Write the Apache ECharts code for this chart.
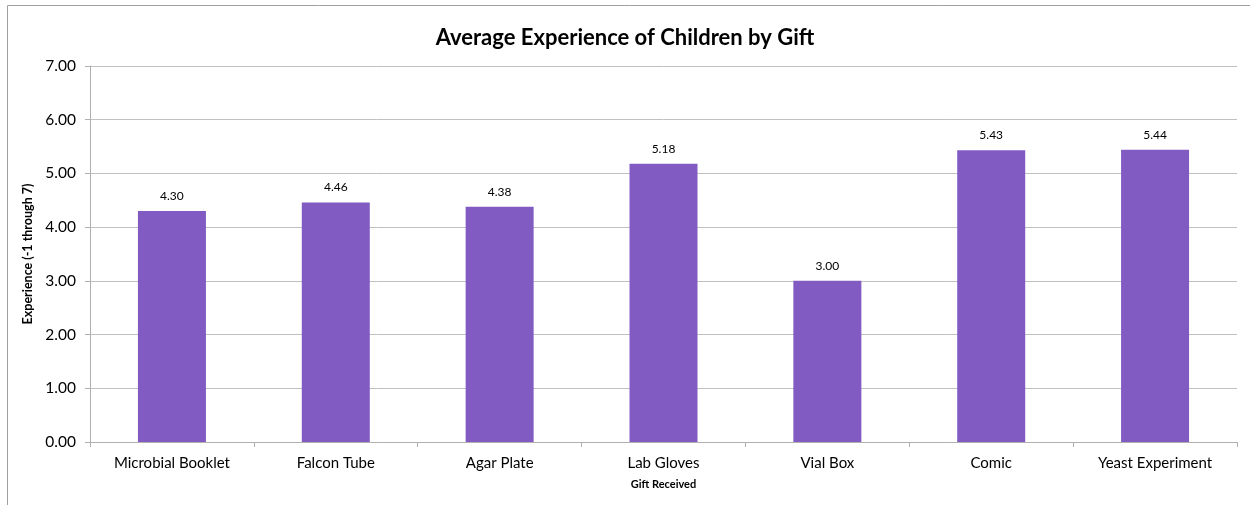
<!DOCTYPE html>
<html>
<head>
<meta charset="utf-8">
<script src="https://cdn.jsdelivr.net/npm/echarts@6/dist/echarts.min.js"></script>
<style>
  html, body { margin: 0; padding: 0; background: #ffffff; }
  #chart { width: 1250px; height: 505px; }
</style>
</head>
<body>
<div id="chart"></div>
<script>
// Gifts handed out and the average experience score for each
const gifts = ['Microbial Booklet', 'Falcon Tube', 'Agar Plate', 'Lab Gloves', 'Vial Box', 'Comic', 'Yeast Experiment'];
const avgExperience = [4.30, 4.46, 4.38, 5.18, 3.00, 5.43, 5.44];

const chart = echarts.init(document.getElementById('chart'));
const font = 'Lato, "Open Sans", sans-serif';

chart.setOption({
  animation: false,
  backgroundColor: '#ffffff',
  graphic: [{
    type: 'rect',
    shape: { x: 7.5, y: 5.5, width: 1400, height: 700 },
    style: { fill: 'none', stroke: '#a0a0a0', lineWidth: 1 },
    silent: true,
    z: -10
  }],
  title: {
    text: 'Average Experience of Children by Gift',
    left: 'center',
    top: 22,
    textStyle: { fontFamily: font, fontSize: 22, fontWeight: 'bold', color: '#000000' }
  },
  grid: { left: 90, right: 13, top: 66, bottom: 63 },
  xAxis: {
    type: 'category',
    data: gifts,
    name: 'Gift Received',
    nameLocation: 'middle',
    nameGap: 37,
    nameTextStyle: { fontFamily: font, fontSize: 11, fontWeight: 'bold', color: '#000000' },
    axisLine: { lineStyle: { color: '#b0b0b0', width: 1 } },
    axisTick: { show: true, length: 5, alignWithLabel: false, lineStyle: { color: '#b0b0b0' } },
    axisLabel: { fontFamily: font, fontSize: 15, color: '#000000', margin: 14, interval: 0 }
  },
  yAxis: {
    type: 'value',
    min: 0,
    max: 7,
    interval: 1,
    name: 'Experience (-1 through 7)',
    nameLocation: 'middle',
    nameGap: 56,
    nameTextStyle: { fontFamily: font, fontSize: 12.5, fontWeight: 'bold', color: '#000000' },
    axisLine: { show: true, lineStyle: { color: '#b0b0b0', width: 1 } },
    axisTick: { show: true, length: 5, lineStyle: { color: '#b0b0b0' } },
    axisLabel: {
      fontFamily: font, fontSize: 15.5, color: '#000000', margin: 14,
      formatter: v => v.toFixed(2)
    },
    splitLine: { lineStyle: { color: '#c0c0c0', width: 1 } }
  },
  series: [{
    type: 'bar',
    data: avgExperience,
    barWidth: '41.5%',
    itemStyle: { color: '#815BC2' },
    label: {
      show: true,
      position: 'top',
      distance: 9,
      fontFamily: font,
      fontSize: 12,
      color: '#000000',
      formatter: p => p.value.toFixed(2)
    }
  }]
});
</script>
</body>
</html>
